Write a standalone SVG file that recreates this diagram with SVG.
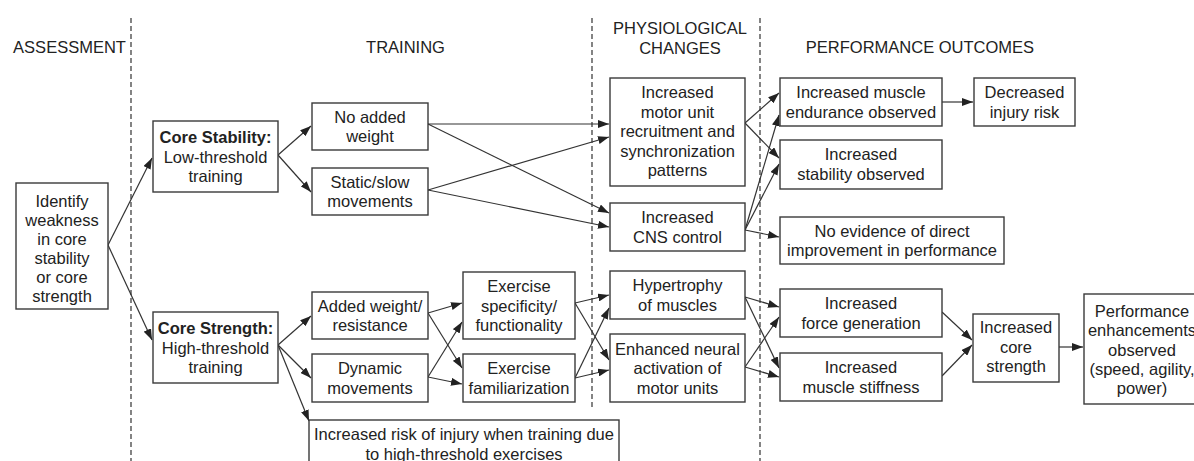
<svg xmlns="http://www.w3.org/2000/svg" width="1194" height="461" viewBox="0 0 1194 461">
<style>
text{font-family:"Liberation Sans",Arial,sans-serif;font-size:16.5px;fill:#222;text-anchor:middle}
.b{font-weight:bold}
.box{fill:#fff;stroke:#3a3a3a;stroke-width:1.4}
.div{stroke:#333;stroke-width:1.2;stroke-dasharray:5,3;fill:none}
#connectors line{stroke:#333;stroke-width:1.2;marker-end:url(#ah)}
</style>
<defs>
<marker id="ah" markerUnits="userSpaceOnUse" markerWidth="11" markerHeight="8" refX="11" refY="4" orient="auto">
<path d="M0,0 L11,4 L0,8 z" fill="#222"/>
</marker>
</defs>
<rect width="1194" height="461" fill="#fff"/>
<g id="dividers">
<line class="div" x1="131" y1="18" x2="131" y2="461"/>
<line class="div" x1="592" y1="18" x2="592" y2="410"/>
<line class="div" x1="760" y1="18" x2="760" y2="461"/>
</g>
<g id="headers">
<text x="69.5" y="53">ASSESSMENT</text>
<text x="405.5" y="53">TRAINING</text>
<text x="680" y="34">PHYSIOLOGICAL</text>
<text x="680" y="54">CHANGES</text>
<text x="920" y="53">PERFORMANCE OUTCOMES</text>
</g>
<g id="connectors">
<line x1="108" y1="245" x2="152" y2="158"/>
<line x1="108" y1="245" x2="152" y2="340"/>
<line x1="278" y1="155" x2="311" y2="126"/>
<line x1="278" y1="155" x2="311" y2="192"/>
<line x1="278" y1="345" x2="311" y2="316"/>
<line x1="278" y1="345" x2="311" y2="378"/>
<line x1="278" y1="345" x2="309" y2="421"/>
<line x1="428" y1="124" x2="609" y2="124"/>
<line x1="428" y1="124" x2="609" y2="213"/>
<line x1="428" y1="190" x2="609" y2="137"/>
<line x1="428" y1="190" x2="609" y2="227"/>
<line x1="428" y1="313" x2="462" y2="303"/>
<line x1="428" y1="313" x2="462" y2="368"/>
<line x1="428" y1="377" x2="462" y2="322"/>
<line x1="428" y1="377" x2="462" y2="384"/>
<line x1="575" y1="303" x2="609" y2="295"/>
<line x1="575" y1="303" x2="609" y2="360"/>
<line x1="575" y1="378" x2="609" y2="308"/>
<line x1="575" y1="378" x2="609" y2="370"/>
<line x1="745" y1="123" x2="779" y2="93"/>
<line x1="745" y1="123" x2="779" y2="158"/>
<line x1="745" y1="230" x2="779" y2="115"/>
<line x1="745" y1="230" x2="779" y2="164"/>
<line x1="745" y1="230" x2="779" y2="237"/>
<line x1="745" y1="297" x2="779" y2="307"/>
<line x1="745" y1="297" x2="779" y2="368"/>
<line x1="745" y1="367" x2="779" y2="317"/>
<line x1="745" y1="367" x2="779" y2="377"/>
<line x1="942" y1="312" x2="972" y2="340"/>
<line x1="942" y1="376" x2="972" y2="345"/>
<line x1="1059" y1="347" x2="1083" y2="347"/>
<line x1="942" y1="102" x2="973" y2="102"/>
</g>
<g id="identify"><rect class="box" x="16" y="183" width="92" height="126"/>
<text x="62" y="206.5">Identify</text><text x="62" y="225.5">weakness</text><text x="62" y="244.5">in core</text><text x="62" y="263.5">stability</text><text x="62" y="282.5">or core</text><text x="62" y="301.5">strength</text></g>
<g id="core-stability"><rect class="box" x="153" y="121" width="125" height="71"/>
<text class="b" x="215.5" y="143.3">Core Stability:</text><text x="215.5" y="162.8">Low-threshold</text><text x="215.5" y="182.3">training</text></g>
<g id="core-strength"><rect class="box" x="153" y="312" width="125" height="71"/>
<text class="b" x="215.5" y="334">Core Strength:</text><text x="215.5" y="353.5">High-threshold</text><text x="215.5" y="373">training</text></g>
<g id="no-added-weight"><rect class="box" x="312" y="103" width="116" height="47"/>
<text x="370" y="122.5">No added</text><text x="370" y="142">weight</text></g>
<g id="static-slow"><rect class="box" x="312" y="168" width="116" height="47"/>
<text x="370" y="187.5">Static/slow</text><text x="370" y="207">movements</text></g>
<g id="added-weight"><rect class="box" x="312" y="292" width="116" height="47"/>
<text x="370" y="311.5">Added weight/</text><text x="370" y="331">resistance</text></g>
<g id="dynamic"><rect class="box" x="312" y="354" width="116" height="48"/>
<text x="370" y="374">Dynamic</text><text x="370" y="393.5">movements</text></g>
<g id="specificity"><rect class="box" x="463" y="272" width="112" height="67"/>
<text x="519" y="292">Exercise</text><text x="519" y="311.5">specificity/</text><text x="519" y="331">functionality</text></g>
<g id="familiarization"><rect class="box" x="463" y="354" width="112" height="48"/>
<text x="519" y="374">Exercise</text><text x="519" y="393.5">familiarization</text></g>
<g id="injury-risk"><rect class="box" x="309" y="420" width="310" height="55"/>
<text x="464" y="440">Increased risk of injury when training due</text><text x="464" y="459.5">to high-threshold exercises</text></g>
<g id="motor-unit"><rect class="box" x="610" y="78" width="135" height="108"/>
<text x="677.5" y="98">Increased</text><text x="677.5" y="117.6">motor unit</text><text x="677.5" y="137.2">recruitment and</text><text x="677.5" y="156.8">synchronization</text><text x="677.5" y="176.4">patterns</text></g>
<g id="cns"><rect class="box" x="610" y="203" width="135" height="48"/>
<text x="677.5" y="223">Increased</text><text x="677.5" y="242.5">CNS control</text></g>
<g id="hypertrophy"><rect class="box" x="610" y="271" width="135" height="48"/>
<text x="677.5" y="291">Hypertrophy</text><text x="677.5" y="310.5">of muscles</text></g>
<g id="neural"><rect class="box" x="610" y="334" width="135" height="68"/>
<text x="677.5" y="354.5">Enhanced neural</text><text x="677.5" y="374">activation of</text><text x="677.5" y="393.5">motor units</text></g>
<g id="endurance"><rect class="box" x="780" y="78" width="162" height="48"/>
<text x="861" y="98">Increased muscle</text><text x="861" y="118">endurance observed</text></g>
<g id="decreased-injury"><rect class="box" x="974" y="78" width="101" height="48"/>
<text x="1024.5" y="98">Decreased</text><text x="1024.5" y="118">injury risk</text></g>
<g id="stability-observed"><rect class="box" x="780" y="140" width="162" height="49"/>
<text x="861" y="160">Increased</text><text x="861" y="180">stability observed</text></g>
<g id="no-evidence"><rect class="box" x="780" y="217" width="224" height="47"/>
<text x="892" y="236.5">No evidence of direct</text><text x="892" y="256">improvement in performance</text></g>
<g id="force"><rect class="box" x="780" y="289" width="162" height="48"/>
<text x="861" y="309">Increased</text><text x="861" y="328.5">force generation</text></g>
<g id="stiffness"><rect class="box" x="780" y="353" width="162" height="48"/>
<text x="861" y="373">Increased</text><text x="861" y="392.5">muscle stiffness</text></g>
<g id="core-strength-outcome"><rect class="box" x="973" y="314" width="86" height="68"/>
<text x="1016" y="333">Increased</text><text x="1016" y="352.5">core</text><text x="1016" y="372">strength</text></g>
<g id="performance"><rect class="box" x="1084" y="294" width="120" height="110"/>
<text x="1142" y="316.5">Performance</text><text x="1142" y="336">enhancements</text><text x="1142" y="355.5">observed</text><text x="1142" y="375">(speed, agility,</text><text x="1142" y="394">power)</text></g>
</svg>
